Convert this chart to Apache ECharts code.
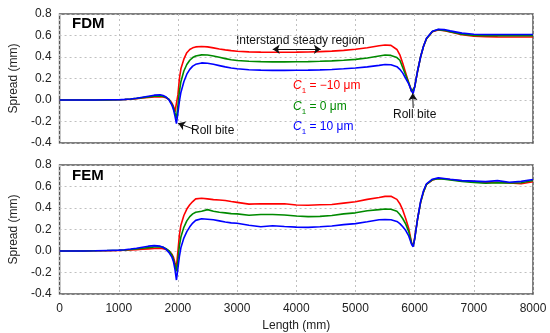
<!DOCTYPE html>
<html><head><meta charset="utf-8">
<script src="https://cdn.jsdelivr.net/npm/echarts@6/dist/echarts.min.js"></script>
<style>html,body{margin:0;padding:0;background:#fff}#c{width:550px;height:333px}</style>
</head><body><div id="c"></div>
<script>
const X = [0,200,400,600,800,1000,1100,1200,1300,1400,1500,1600,1700,1750,1800,1850,1900,1925,1950,1975,2000,2025,2050,2100,2150,2200,2250,2300,2400,2500,2600,2700,2800,2900,3000,3200,3400,3600,3800,4000,4200,4400,4600,4800,5000,5200,5400,5500,5600,5700,5750,5800,5850,5900,5950,5975,6000,6050,6100,6150,6200,6300,6400,6500,6600,6800,7000,7200,7400,7600,7800,8000];

const fdmRed = [0,0,0,0,0.001,0.002,0.004,0.007,0.012,0.018,0.024,0.029,0.03,0.028,0.02,0.005,-0.03,-0.06,-0.11,-0.12,0.05,0.2,0.29,0.38,0.44,0.47,0.485,0.494,0.498,0.494,0.485,0.475,0.466,0.459,0.454,0.448,0.445,0.444,0.444,0.445,0.447,0.45,0.455,0.462,0.472,0.486,0.505,0.512,0.508,0.47,0.42,0.34,0.25,0.16,0.08,0.065,0.12,0.27,0.4,0.5,0.57,0.635,0.652,0.645,0.632,0.607,0.594,0.589,0.587,0.586,0.586,0.586];
const fdmGreen = [0,0,0,0,0.001,0.003,0.005,0.009,0.015,0.022,0.029,0.035,0.038,0.034,0.024,0.005,-0.04,-0.07,-0.12,-0.17,-0.05,0.08,0.17,0.27,0.33,0.37,0.395,0.41,0.42,0.418,0.41,0.398,0.385,0.375,0.368,0.36,0.357,0.355,0.355,0.356,0.357,0.36,0.364,0.37,0.378,0.39,0.41,0.418,0.415,0.395,0.37,0.3,0.23,0.16,0.08,0.062,0.12,0.27,0.4,0.5,0.57,0.637,0.655,0.648,0.636,0.613,0.601,0.598,0.597,0.597,0.597,0.597];
const fdmBlue = [0,0,0,0,0.002,0.003,0.006,0.01,0.017,0.025,0.035,0.045,0.048,0.042,0.028,0,-0.05,-0.09,-0.15,-0.22,-0.12,-0.01,0.07,0.17,0.24,0.285,0.315,0.332,0.345,0.342,0.332,0.32,0.308,0.298,0.29,0.282,0.278,0.276,0.276,0.277,0.278,0.28,0.284,0.29,0.297,0.308,0.322,0.33,0.328,0.31,0.285,0.25,0.2,0.15,0.08,0.06,0.12,0.27,0.4,0.5,0.575,0.64,0.658,0.655,0.643,0.622,0.612,0.609,0.609,0.609,0.609,0.609];

const femRed = [0,0,0,0.002,0.003,0.005,0.007,0.01,0.013,0.017,0.02,0.023,0.025,0.022,0.015,0,-0.03,-0.06,-0.11,-0.145,0,0.15,0.24,0.33,0.39,0.43,0.46,0.485,0.49,0.485,0.478,0.475,0.47,0.46,0.452,0.436,0.44,0.438,0.44,0.428,0.425,0.43,0.432,0.445,0.458,0.48,0.498,0.508,0.51,0.48,0.44,0.38,0.3,0.21,0.07,0.05,0.12,0.3,0.45,0.55,0.62,0.66,0.675,0.672,0.665,0.652,0.645,0.636,0.64,0.632,0.625,0.645];
const femGreen = [0,0,0,0.002,0.004,0.007,0.01,0.014,0.019,0.025,0.031,0.037,0.04,0.034,0.022,0.002,-0.04,-0.08,-0.13,-0.19,-0.08,0.05,0.13,0.22,0.28,0.32,0.345,0.36,0.37,0.385,0.37,0.36,0.355,0.348,0.345,0.333,0.34,0.34,0.335,0.325,0.32,0.322,0.33,0.345,0.355,0.375,0.385,0.39,0.388,0.37,0.34,0.3,0.25,0.18,0.07,0.045,0.11,0.3,0.45,0.55,0.62,0.662,0.672,0.668,0.66,0.648,0.638,0.63,0.635,0.632,0.635,0.655];
const femBlue = [0,0,0,0.002,0.005,0.008,0.012,0.018,0.025,0.035,0.045,0.05,0.045,0.035,0.015,-0.015,-0.06,-0.1,-0.17,-0.27,-0.16,-0.05,0.03,0.12,0.18,0.225,0.26,0.285,0.3,0.295,0.29,0.28,0.27,0.262,0.258,0.24,0.225,0.235,0.228,0.222,0.22,0.225,0.232,0.245,0.255,0.272,0.29,0.293,0.29,0.275,0.255,0.225,0.19,0.14,0.06,0.04,0.11,0.3,0.46,0.56,0.625,0.668,0.68,0.675,0.668,0.655,0.65,0.645,0.655,0.64,0.648,0.665];

const yTicks = {min: -0.4, max: 0.8, interval: 0.2};
const xTicks = {min: 0, max: 8000, interval: 1000};

const FONT = 'Liberation Sans, Arial, sans-serif';
const RED = '#ff0000', GREEN = '#008a00', BLUE = '#0000ff';
const pair = a => X.map((x, i) => [x, a[i]]);

const chart = echarts.init(document.getElementById('c'), null, {renderer: 'canvas'});

const gridLine = {show: true, lineStyle: {color: '#c0c0c0', type: [2, 3], width: 1}};
function yAxis(idx) {
  return {gridIndex: idx, type: 'value', min: yTicks.min, max: yTicks.max, interval: yTicks.interval,
    name: 'Spread (mm)', nameLocation: 'middle', nameGap: 36, nameRotate: 90,
    nameTextStyle: {fontFamily: FONT, fontSize: 12, color: '#222'},
    axisLine: {show: false}, axisTick: {show: false}, splitLine: gridLine,
    axisLabel: {fontFamily: FONT, fontSize: 12, color: '#222', margin: 8, formatter: v => v.toFixed(1)}};
}
function xAxis(idx, labels) {
  return {gridIndex: idx, type: 'value', min: xTicks.min, max: xTicks.max, interval: xTicks.interval,
    name: labels ? 'Length (mm)' : '', nameLocation: 'middle', nameGap: 26,
    nameTextStyle: {fontFamily: FONT, fontSize: 12, color: '#222'},
    axisLine: {show: false}, axisTick: {show: false}, splitLine: gridLine,
    axisLabel: {show: labels, fontFamily: FONT, fontSize: 12, color: '#222', margin: 9, formatter: v => String(v)}};
}
function line(name, data, color, idx, extra) {
  return Object.assign({type: 'line', name, xAxisIndex: idx, yAxisIndex: idx, data: pair(data),
    showSymbol: false, symbol: 'none', lineStyle: {color, width: 1.6}, itemStyle: {color}, z: 3, animation: false}, extra || {});
}
const arrowStyle = {color: '#111', width: 1, type: 'solid'};
const topMarks = {markLine: {silent: true, symbol: ['none', 'arrow'], symbolSize: 7, animation: false,
  label: {show: false}, lineStyle: arrowStyle,
  data: [
    [{coord: [2307, -0.279]}, {coord: [2003, -0.217]}],
    [{coord: [5975, -0.074]}, {coord: [5967, 0.062]}],
    [{coord: [3602, 0.472], symbol: 'arrow'}, {coord: [4415, 0.472], symbol: 'arrow'}]
  ]}};

const legendRich = c => ({
  i: {fontFamily: FONT, fontSize: 12, fontStyle: 'italic', fill: c},
  s: {fontFamily: FONT, fontSize: 8, fill: c, verticalAlign: 'bottom', lineHeight: 8, padding: [0, 0, -3, 0]},
  n: {fontFamily: FONT, fontSize: 12, fill: c}
});
function leg(text, y, c) {
  return {type: 'text', left: 293, top: y - 8, z: 10,
    style: {text: '{i|C}{s|1}{n| = ' + text + '}', fill: c, rich: legendRich(c)}};
}

chart.setOption({
  backgroundColor: '#fff',
  animation: false,
  grid: [
    {left: 51, right: 17, top: 14, height: 129, show: true, borderColor: '#555', borderWidth: 1.5, backgroundColor: 'transparent'},
    {left: 51, right: 17, top: 165, height: 129, show: true, borderColor: '#555', borderWidth: 1.5, backgroundColor: 'transparent'}
  ],
  xAxis: [xAxis(0, false), xAxis(1, true)],
  yAxis: [yAxis(0), yAxis(1)],
  series: [
    line('C1 = −10 μm', fdmRed, RED, 0, topMarks),
    line('C1 = 0 μm', fdmGreen, GREEN, 0),
    line('C1 = 10 μm', fdmBlue, BLUE, 0),
    line('C1 = −10 μm', femRed, RED, 1),
    line('C1 = 0 μm', femGreen, GREEN, 1),
    line('C1 = 10 μm', femBlue, BLUE, 1)
  ],
  graphic: [
    {type: 'text', left: 72, top: 16, style: {text: 'FDM', font: 'bold 15px ' + FONT, fill: '#000'}},
    {type: 'text', left: 72, top: 168, style: {text: 'FEM', font: 'bold 15px ' + FONT, fill: '#000'}},
    {type: 'text', left: 236, top: 35, style: {text: 'Interstand steady region', font: '12px ' + FONT, fill: '#111'}},
    {type: 'text', left: 191, top: 125, style: {text: 'Roll bite', font: '12px ' + FONT, fill: '#111'}},
    {type: 'text', left: 393, top: 109, style: {text: 'Roll bite', font: '12px ' + FONT, fill: '#111'}},
    leg('−10 μm', 88, RED),
    leg('0 μm', 109, GREEN),
    leg('10 μm', 129, BLUE)
  ]
});
</script></body></html>
